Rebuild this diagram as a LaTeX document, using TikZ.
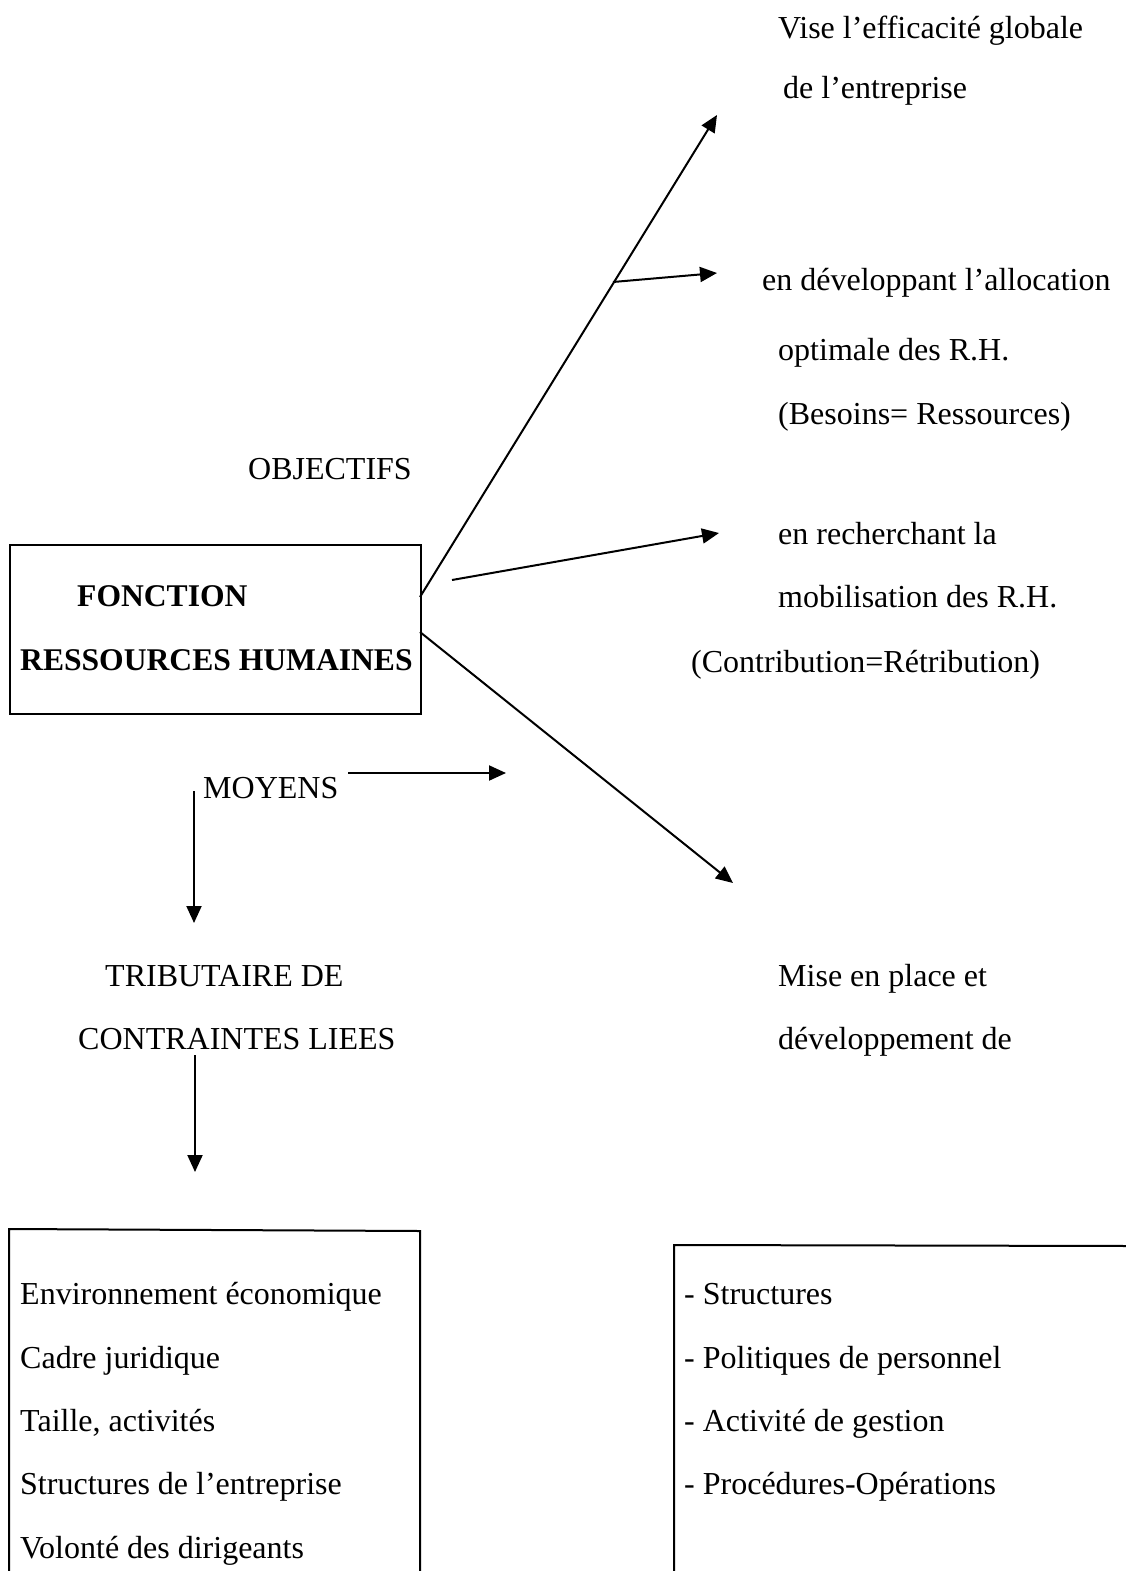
\documentclass[tikz,border=0pt]{standalone}
\usepackage{fontspec}
\setmainfont{Liberation Serif}
\usetikzlibrary{arrows.meta}
\begin{document}
\begin{tikzpicture}[x=1pt,y=-1pt,
  txt/.style={anchor=base west,inner sep=0pt,font=\fontsize{32}{38}\selectfont},
  btxt/.style={txt,font=\fontsize{31.6}{38}\selectfont\bfseries},
  ln/.style={line width=2pt},
  arr/.style={ln,-{Triangle[length=17pt,width=15pt]}}]
\useasboundingbox (0,0) rectangle (1126,1571);
% main box
\node[draw,ln,minimum width=411pt,minimum height=169pt,anchor=north west,inner sep=0pt] (frh) at (9,544) {};
\node[btxt] (t1) at (77,606) {FONCTION};
\node[btxt] (t2) at (20,670) {RESSOURCES HUMAINES};
% objectives texts
\node[txt] (o1) at (778,39) {Vise l’efficacité globale};
\node[txt] (o2) at (783,99) {de l’entreprise};
\node[txt] (o3) at (762,290) {en développant l’allocation};
\node[txt] (o4) at (778,360) {optimale des R.H.};
\node[txt] (o5) at (778,424) {(Besoins= Ressources)};
\node[txt] (obj) at (248,479) {OBJECTIFS};
\node[txt] (o6) at (778,544) {en recherchant la};
\node[txt] (o7) at (778,607) {mobilisation des R.H.};
\node[txt] (o8) at (691,672) {(Contribution=Rétribution)};
\node[txt] (moy) at (203,798) {MOYENS};
\node[txt] (tr1) at (105,986) {TRIBUTAIRE DE};
\node[txt] (tr2) at (78,1049) {CONTRAINTES LIEES};
\node[txt] (m1) at (778,986) {Mise en place et};
\node[txt] (m2) at (778,1049) {développement de};
% connector coordinates
\coordinate (a1s) at (420,597);
\coordinate (a1e) at (717,115);
\coordinate (b1s) at (613,282);
\coordinate (b1e) at (717,273);
\coordinate (a2s) at (452,580);
\coordinate (a2e) at (719,533);
\coordinate (a3s) at (420,632);
\coordinate (a3e) at (733,883);
\coordinate (mvs) at (348,773);
\coordinate (mve) at (506,773);
\coordinate (d1s) at (194,791);
\coordinate (d1e) at (194,923);
\coordinate (d2s) at (195,1055);
\coordinate (d2e) at (195,1172);
\draw[arr] (a1s) -- (a1e);
\draw[arr] (b1s) -- (b1e);
\draw[arr] (a2s) -- (a2e);
\draw[arr] (a3s) -- (a3e);
\draw[arr] (mvs) -- (mve);
\draw[arr] (d1s) -- (d1e);
\draw[arr] (d2s) -- (d2e);
% left bottom box (open at bottom)
\coordinate (lb1) at (9,1580);
\coordinate (lb2) at (9,1229);
\coordinate (lb3) at (420,1231);
\coordinate (lb4) at (420,1580);
\draw[ln] (lb1) -- (lb2) -- (lb3) -- (lb4);
\node[txt] (l1) at (20,1304) {Environnement économique};
\node[txt] (l2) at (20,1368) {Cadre juridique};
\node[txt] (l3) at (20,1431) {Taille, activités};
\node[txt] (l4) at (20,1494) {Structures de l’entreprise};
\node[txt] (l5) at (20,1558) {Volonté des dirigeants};
% right bottom box (open)
\coordinate (rb1) at (674,1580);
\coordinate (rb2) at (674,1245);
\coordinate (rb3) at (1130,1246);
\draw[ln] (rb1) -- (rb2) -- (rb3);
\node[txt] (r1) at (684,1304) {- Structures};
\node[txt] (r2) at (684,1368) {- Politiques de personnel};
\node[txt] (r3) at (684,1431) {- Activité de gestion};
\node[txt] (r4) at (684,1494) {- Procédures-Opérations};
\end{tikzpicture}
\end{document}
